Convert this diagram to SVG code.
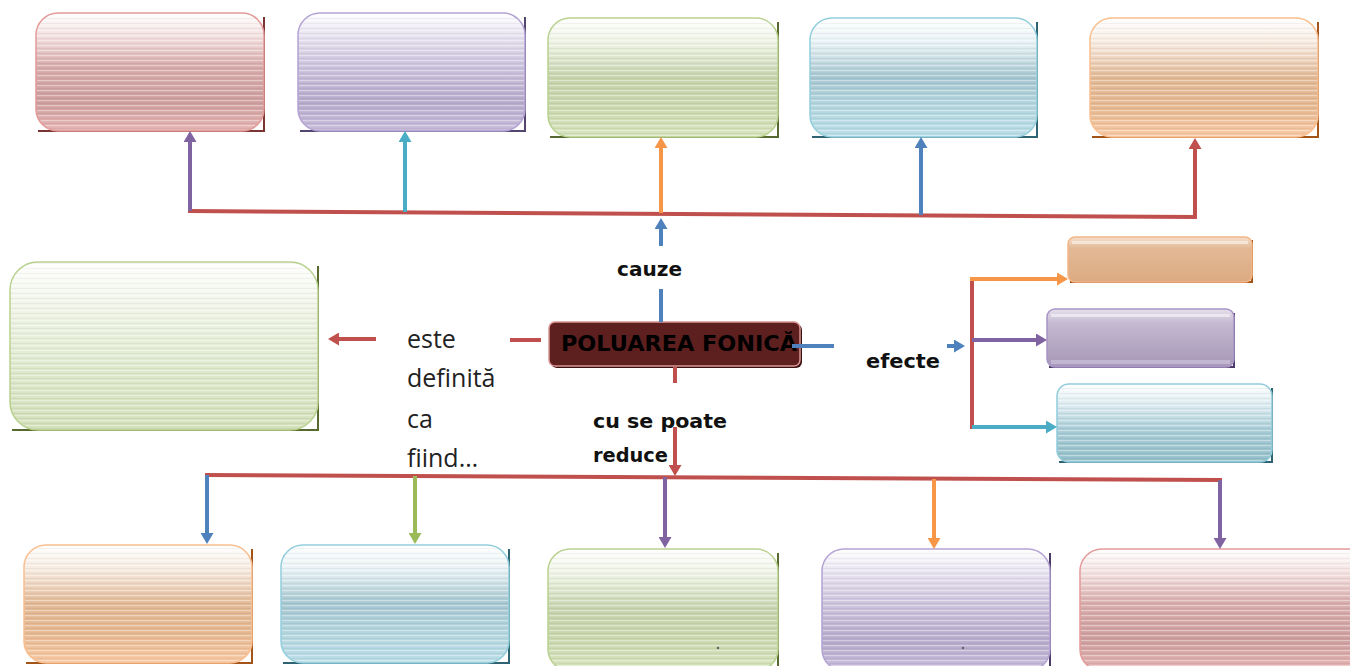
<svg xmlns="http://www.w3.org/2000/svg" width="1350" height="666" viewBox="0 0 1350 666">
  <style>
    .lbl { font-family: "Open Sans", "Liberation Sans", sans-serif; font-size: 25px; fill: #222; }
    .cmc { font-family: "DejaVu Sans", "Liberation Sans", sans-serif; font-weight: bold; font-size: 19px; fill: #111; }
    .ttl { font-family: "DejaVu Sans", "Liberation Sans", sans-serif; font-weight: bold; font-size: 21px; fill: #000; }
    .ln { fill: none; stroke-width: 4; stroke-linecap: butt; stroke-linejoin: miter; }
    .red { stroke: #c0504d; }
    .pur { stroke: #8064a2; }
    .cya { stroke: #4bacc6; }
    .ora { stroke: #f79646; }
    .blu { stroke: #4f81bd; }
    .grn { stroke: #9bbb59; }
    .stripes { fill: url(#stripes); }
    .shade { fill: none; stroke-width: 2; }
  </style>
  <defs>
    <pattern id="stripes" patternUnits="userSpaceOnUse" width="10" height="5">
      <rect x="0" y="0" width="10" height="1.2" fill="#ffffff" fill-opacity="0.4"/>
      <rect x="0" y="3" width="10" height="0.8" fill="#000000" fill-opacity="0.05"/>
    </pattern>
    <linearGradient id="gRed" x1="0" y1="0" x2="0" y2="1">
      <stop offset="0" stop-color="#ffffff"/>
      <stop offset="0.2" stop-color="#f2dfde"/>
      <stop offset="0.45" stop-color="#d7abaa"/>
      <stop offset="0.75" stop-color="#cd9e9d"/>
      <stop offset="1" stop-color="#e6b4b3"/>
    </linearGradient>
    <linearGradient id="gPur" x1="0" y1="0" x2="0" y2="1">
      <stop offset="0" stop-color="#ffffff"/>
      <stop offset="0.2" stop-color="#e6e1ef"/>
      <stop offset="0.45" stop-color="#cbc2dc"/>
      <stop offset="0.75" stop-color="#b6aacb"/>
      <stop offset="1" stop-color="#c7bcdb"/>
    </linearGradient>
    <linearGradient id="gGrn" x1="0" y1="0" x2="0" y2="1">
      <stop offset="0" stop-color="#ffffff"/>
      <stop offset="0.2" stop-color="#eef3e4"/>
      <stop offset="0.5" stop-color="#c6d3ac"/>
      <stop offset="0.75" stop-color="#c9d8ad"/>
      <stop offset="1" stop-color="#d6e4bd"/>
    </linearGradient>
    <linearGradient id="gBlu" x1="0" y1="0" x2="0" y2="1">
      <stop offset="0" stop-color="#ffffff"/>
      <stop offset="0.2" stop-color="#e8f2f5"/>
      <stop offset="0.5" stop-color="#a5c6d0"/>
      <stop offset="0.75" stop-color="#b3d6df"/>
      <stop offset="1" stop-color="#b9dde7"/>
    </linearGradient>
    <linearGradient id="gOra" x1="0" y1="0" x2="0" y2="1">
      <stop offset="0" stop-color="#ffffff"/>
      <stop offset="0.2" stop-color="#f7ebe1"/>
      <stop offset="0.5" stop-color="#e2b894"/>
      <stop offset="0.75" stop-color="#e6b890"/>
      <stop offset="1" stop-color="#f8c8a2"/>
    </linearGradient>
    <linearGradient id="gDefn" x1="0" y1="0" x2="0" y2="1">
      <stop offset="0" stop-color="#ffffff"/>
      <stop offset="0.3" stop-color="#eef3e4"/>
      <stop offset="0.7" stop-color="#dbe6c8"/>
      <stop offset="1" stop-color="#d2e0b8"/>
    </linearGradient>
    <linearGradient id="gEfO" x1="0" y1="0" x2="0" y2="1">
      <stop offset="0" stop-color="#f6e0cf"/>
      <stop offset="0.25" stop-color="#e3b995"/>
      <stop offset="1" stop-color="#dcaa82"/>
    </linearGradient>
    <linearGradient id="gEfP" x1="0" y1="0" x2="0" y2="1">
      <stop offset="0" stop-color="#e6e0ec"/>
      <stop offset="0.25" stop-color="#c4b9d0"/>
      <stop offset="1" stop-color="#a797b8"/>
    </linearGradient>
    <linearGradient id="gEfC" x1="0" y1="0" x2="0" y2="1">
      <stop offset="0" stop-color="#ffffff"/>
      <stop offset="0.3" stop-color="#d6e8ee"/>
      <stop offset="0.6" stop-color="#a6cbd5"/>
      <stop offset="1" stop-color="#92bec9"/>
    </linearGradient>
    <marker id="aRed" viewBox="0 0 11 13" markerUnits="userSpaceOnUse" markerWidth="11" markerHeight="13" refX="4" refY="6.5" orient="auto"><path d="M0,0 L11,6.5 L0,13 Z" fill="#c0504d"/></marker>
    <marker id="aPur" viewBox="0 0 11 13" markerUnits="userSpaceOnUse" markerWidth="11" markerHeight="13" refX="4" refY="6.5" orient="auto"><path d="M0,0 L11,6.5 L0,13 Z" fill="#8064a2"/></marker>
    <marker id="aCya" viewBox="0 0 11 13" markerUnits="userSpaceOnUse" markerWidth="11" markerHeight="13" refX="4" refY="6.5" orient="auto"><path d="M0,0 L11,6.5 L0,13 Z" fill="#4bacc6"/></marker>
    <marker id="aOra" viewBox="0 0 11 13" markerUnits="userSpaceOnUse" markerWidth="11" markerHeight="13" refX="4" refY="6.5" orient="auto"><path d="M0,0 L11,6.5 L0,13 Z" fill="#f79646"/></marker>
    <marker id="aBlu" viewBox="0 0 11 13" markerUnits="userSpaceOnUse" markerWidth="11" markerHeight="13" refX="4" refY="6.5" orient="auto"><path d="M0,0 L11,6.5 L0,13 Z" fill="#4f81bd"/></marker>
    <marker id="aGrn" viewBox="0 0 11 13" markerUnits="userSpaceOnUse" markerWidth="11" markerHeight="13" refX="4" refY="6.5" orient="auto"><path d="M0,0 L11,6.5 L0,13 Z" fill="#9bbb59"/></marker>
  </defs>

  <rect width="1350" height="666" fill="#ffffff"/>

  <!-- causes row -->
  <g id="cauza-1">
    <path class="shade" d="M264,17 V131 H38" stroke="#7a3533"/>
    <rect x="36" y="13" width="228" height="118" rx="22" fill="url(#gRed)" stroke="#e39a99" stroke-width="1.5"/>
    <rect x="37" y="14" width="226" height="116" rx="21" class="stripes"/>
  </g>
  <g id="cauza-2">
    <path class="shade" d="M525,17 V131 H300" stroke="#54456e"/>
    <rect x="298" y="13" width="227" height="118" rx="22" fill="url(#gPur)" stroke="#b4a3d3" stroke-width="1.5"/>
    <rect x="299" y="14" width="225" height="116" rx="21" class="stripes"/>
  </g>
  <g id="cauza-3">
    <path class="shade" d="M778,22 V137 H550" stroke="#56692f"/>
    <rect x="548" y="18" width="230" height="119" rx="22" fill="url(#gGrn)" stroke="#b9d18f" stroke-width="1.5"/>
    <rect x="549" y="19" width="228" height="117" rx="21" class="stripes"/>
  </g>
  <g id="cauza-4">
    <path class="shade" d="M1037,22 V137 H812" stroke="#2d6373"/>
    <rect x="810" y="18" width="227" height="119" rx="22" fill="url(#gBlu)" stroke="#93cedd" stroke-width="1.5"/>
    <rect x="811" y="19" width="225" height="117" rx="21" class="stripes"/>
  </g>
  <g id="cauza-5">
    <path class="shade" d="M1318,22 V137 H1092" stroke="#a35418"/>
    <rect x="1090" y="18" width="228" height="119" rx="22" fill="url(#gOra)" stroke="#f9bf90" stroke-width="1.5"/>
    <rect x="1091" y="19" width="226" height="117" rx="21" class="stripes"/>
  </g>

  <!-- definition -->
  <g id="definitie">
    <path class="shade" d="M318,266 V430 H12" stroke="#56692f"/>
    <rect x="10" y="262" width="308" height="168" rx="28" fill="url(#gDefn)" stroke="#b9d18f" stroke-width="1.5"/>
    <rect x="11" y="263" width="306" height="166" rx="27" class="stripes"/>
  </g>

  <!-- central topic -->
  <g id="poluarea-fonica">
    <rect x="551" y="324" width="251" height="44" rx="6" fill="#3b1010"/>
    <rect x="549" y="322" width="251" height="44" rx="6" fill="#5e1f1f" stroke="#d99694" stroke-width="1.5"/>
    <text x="561" y="351" class="ttl" textLength="236" lengthAdjust="spacingAndGlyphs">POLUAREA FONICĂ</text>
  </g>

  <!-- effects -->
  <g id="efect-1">
    <path class="shade" d="M1252,240 V282 H1070" stroke="#a35418"/>
    <rect x="1068" y="237" width="184" height="45" rx="7" fill="url(#gEfO)" stroke="#f5b585" stroke-width="1.5"/>
    <rect x="1072" y="241" width="176" height="3" fill="#ffffff" fill-opacity="0.5"/>
  </g>
  <g id="efect-2">
    <path class="shade" d="M1234,313 V367 H1049" stroke="#4c3a66"/>
    <rect x="1047" y="309" width="187" height="58" rx="8" fill="url(#gEfP)" stroke="#a894c6" stroke-width="1.5"/>
    <rect x="1051" y="314" width="179" height="3" fill="#ffffff" fill-opacity="0.5"/>
    <rect x="1051" y="360" width="179" height="4" fill="#c9bdd8" fill-opacity="0.8"/>
  </g>
  <g id="efect-3">
    <path class="shade" d="M1272,388 V462 H1059" stroke="#2d6373"/>
    <rect x="1057" y="384" width="215" height="78" rx="12" fill="url(#gEfC)" stroke="#8fcbdb" stroke-width="1.5"/>
    <rect x="1058" y="385" width="213" height="76" rx="11" class="stripes"/>
  </g>

  <!-- solutions row -->
  <g id="solutie-1">
    <path class="shade" d="M252,549 V663 H26" stroke="#a35418"/>
    <rect x="24" y="545" width="228" height="118" rx="22" fill="url(#gOra)" stroke="#f9bf90" stroke-width="1.5"/>
    <rect x="25" y="546" width="226" height="116" rx="21" class="stripes"/>
  </g>
  <g id="solutie-2">
    <path class="shade" d="M509,549 V663 H283" stroke="#2d6373"/>
    <rect x="281" y="545" width="228" height="118" rx="22" fill="url(#gBlu)" stroke="#93cedd" stroke-width="1.5"/>
    <rect x="282" y="546" width="226" height="116" rx="21" class="stripes"/>
  </g>
  <g id="solutie-3">
    <path class="shade" d="M778,553 V668" stroke="#56692f"/>
    <rect x="548" y="549" width="230" height="122" rx="22" fill="url(#gGrn)" stroke="#b9d18f" stroke-width="1.5"/>
    <rect x="549" y="550" width="228" height="120" rx="21" class="stripes"/>
    <circle cx="718" cy="648" r="1.3" fill="#666"/>
  </g>
  <g id="solutie-4">
    <path class="shade" d="M1050,553 V668" stroke="#4c3a66"/>
    <rect x="822" y="549" width="228" height="122" rx="22" fill="url(#gPur)" stroke="#b4a3d3" stroke-width="1.5"/>
    <rect x="823" y="550" width="226" height="120" rx="21" class="stripes"/>
    <circle cx="963" cy="648" r="1.3" fill="#666"/>
  </g>
  <g id="solutie-5">
    <rect x="1080" y="549" width="290" height="122" rx="22" fill="url(#gRed)" stroke="#e39a99" stroke-width="1.5"/>
    <rect x="1081" y="550" width="288" height="120" rx="21" class="stripes"/>
  </g>

  <!-- connectors -->
  <g id="connectors">
    <!-- causes branch -->
    <path class="ln red" d="M188,211 L1195,217 L1195,145" marker-end="url(#aRed)"/>
    <path class="ln pur" d="M190,211 V138" marker-end="url(#aPur)"/>
    <path class="ln cya" d="M405,212 V138" marker-end="url(#aCya)"/>
    <path class="ln ora" d="M661,213 V144" marker-end="url(#aOra)"/>
    <path class="ln blu" d="M921,215 V144" marker-end="url(#aBlu)"/>
    <path class="ln blu" d="M661,246 V225" marker-end="url(#aBlu)"/>
    <path class="ln blu" d="M661,289 V322"/>
    <!-- definition branch -->
    <path class="ln red" d="M541,340 H510"/>
    <path class="ln red" d="M376,339 H335" marker-end="url(#aRed)"/>
    <!-- effects branch -->
    <path class="ln blu" d="M792,346 H834"/>
    <path class="ln blu" d="M947,346 H958" marker-end="url(#aBlu)"/>
    <path class="ln red" d="M972,279 V429"/>
    <path class="ln ora" d="M970,279 H1061" marker-end="url(#aOra)"/>
    <path class="ln pur" d="M972,340 H1040" marker-end="url(#aPur)"/>
    <path class="ln cya" d="M972,427 H1050" marker-end="url(#aCya)"/>
    <!-- solutions branch -->
    <path class="ln red" d="M675,367 V383"/>
    <path class="ln red" d="M675,427 V469" marker-end="url(#aRed)"/>
    <path class="ln red" d="M205,475 L1222,480"/>
    <path class="ln blu" d="M207,475 V537" marker-end="url(#aBlu)"/>
    <path class="ln grn" d="M415,476 V537" marker-end="url(#aGrn)"/>
    <path class="ln pur" d="M665,477 V541" marker-end="url(#aPur)"/>
    <path class="ln ora" d="M934,479 V542" marker-end="url(#aOra)"/>
    <path class="ln pur" d="M1220,480 V542" marker-end="url(#aPur)"/>
  </g>

  <!-- link labels -->
  <g id="labels">
    <text x="617" y="276" class="cmc" textLength="65" lengthAdjust="spacingAndGlyphs">cauze</text>
    <text x="866" y="368" class="cmc" textLength="74" lengthAdjust="spacingAndGlyphs">efecte</text>
    <text x="593" y="428" class="cmc" textLength="134" lengthAdjust="spacingAndGlyphs">cu se poate</text>
    <text x="593" y="462" class="cmc" textLength="75" lengthAdjust="spacingAndGlyphs">reduce</text>
    <text x="407" y="348" class="lbl">este</text>
    <text x="407" y="387" class="lbl">definită</text>
    <text x="407" y="428" class="lbl">ca</text>
    <text x="407" y="467" class="lbl">fiind…</text>
  </g>
</svg>
